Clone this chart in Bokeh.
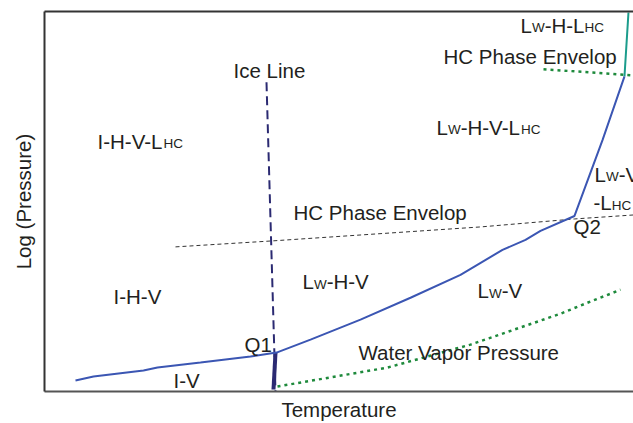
from bokeh.plotting import figure
from bokeh.models import Range1d, LinearAxis, FixedTicker, ColumnDataSource
from bokeh.embed import file_html
from bokeh.resources import INLINE
from bokeh.core.properties import value

# ---- schematic data (arbitrary units: temperature -> x, log pressure -> y) ----
# three-phase boundary (I-V / Lw-V ... through Q1 and Q2)
boundary_x = [31, 49, 99, 113, 156, 206, 232, 266, 316, 366, 416, 458, 481, 496, 530, 558, 580]
boundary_y = [11, 15, 21, 24, 29, 35, 39, 52, 72, 94, 117, 142, 152, 161, 176, 252, 316]
# continuation above the upper HC phase envelope
upper_x = [580, 584]
upper_y = [316, 380]
# ice line (dashed) and its solid part below Q1
ice_x = [222, 231]
ice_y = [310, 0]
ice_solid_x = [231, 229]
ice_solid_y = [39, 2]
# HC phase envelope (black dashed)
hc_x = [131, 228, 436, 530, 589, 604]
hc_y = [145, 151, 165, 173, 177, 178]
# water vapour pressure (green dotted)
wvp_x = [233, 343, 426, 516, 548, 576]
wvp_y = [5, 24, 47, 78, 91, 102]
# upper HC phase envelope (green dotted)
hc2_x = [499, 546, 586, 604]
hc2_y = [323, 320, 317, 316]

# region labels: segments (text, small) with anchor (x, baseline y)
label_segments = [
    [("L", 0), ("W", 1), ("-H-L", 0), ("HC", 1)],
    [("HC Phase Envelop", 0)],
    [("L", 0), ("W", 1), ("-H-V-L", 0), ("HC", 1)],
    [("I-H-V-L", 0), ("HC", 1)],
    [("HC Phase Envelop", 0)],
    [("L", 0), ("W", 1), ("-V", 0)],
    [("-L", 0), ("HC", 1)],
    [("Q2", 0)],
    [("I-H-V", 0)],
    [("L", 0), ("W", 1), ("-H-V", 0)],
    [("L", 0), ("W", 1), ("-V", 0)],
    [("Q1", 0)],
    [("Water Vapor Pressure", 0)],
    [("I-V", 0)],
    [("Ice Line", 0)],
]
label_x = [476, 399, 392, 53, 249, 550, 549, 529, 69, 258, 433, 200, 314, 129, 189]
label_y = [367, 336, 265, 251, 179, 218, 189, 165, 95, 110, 101, 47, 39, 11, 322]

x_title = "Temperature"
y_title = "Log (Pressure)"

# ---- styling ----
FONT = "Liberation Sans"
BIG = 20.5
SMALL = 13.5
TXT = "#231f20"
BLUE = "#3b56b3"
NAVY = "#2b2a72"
GREEN = "#1e8a3c"
TEAL = "#1b9c8c"

# Arial/Liberation advance widths (em) for offset of segments
W_EM = {"L": .556, "W": .944, "-": .333, "H": .722, "V": .667, "C": .722, "I": .278}

xs, ys, texts, offs, yoffs, sizes = [], [], [], [], [], []
for segs, lx, ly in zip(label_segments, label_x, label_y):
    off = 0.0
    for t, small in segs:
        sz = SMALL if small else BIG
        xs.append(lx); ys.append(ly); texts.append(t); offs.append(off)
        yoffs.append(2.5 if small else 0.0)
        sizes.append(f"{sz}px")
        off += sum(W_EM.get(c, 0.556) for c in t) * sz

p = figure(width=633, height=423, output_backend="svg", toolbar_location=None,
           x_range=Range1d(0, 589), y_range=Range1d(0, 381),
           x_axis_location=None, y_axis_location=None,
           min_border_left=44, min_border_right=0, min_border_top=11, min_border_bottom=31)
p.outline_line_color = None
p.background_fill_color = "white"
p.border_fill_color = "white"
p.grid.grid_line_color = None

axes = {}
for loc, col in [("left", "#333333"), ("below", "#555555"), ("above", "#333333")]:
    ax = LinearAxis(ticker=FixedTicker(ticks=[]), major_tick_out=0, major_tick_in=0,
                    minor_tick_out=0, minor_tick_in=0, major_label_text_font_size="0px",
                    major_label_standoff=0, axis_line_color=col, axis_line_width=2,
                    axis_label_text_font=FONT, axis_label_text_font_size=f"{BIG}px",
                    axis_label_text_font_style="normal", axis_label_text_color=TXT)
    p.add_layout(ax, loc)
    axes[loc] = ax
axes["left"].axis_label = y_title
axes["left"].axis_label_standoff = 10
axes["below"].axis_label = x_title
axes["below"].axis_label_standoff = 6

p.line(hc_x, hc_y, line_color="#333333", line_width=1, line_dash="4 3")
p.line(wvp_x, wvp_y, line_color=GREEN, line_width=2.5, line_dash="3 4")
p.line(hc2_x, hc2_y, line_color=GREEN, line_width=2.5, line_dash="3 4")
p.line(ice_x, ice_y, line_color=NAVY, line_width=2, line_dash="9 5")
p.line(ice_solid_x, ice_solid_y, line_color=NAVY, line_width=4)
p.line(boundary_x, boundary_y, line_color=BLUE, line_width=2)
p.line(upper_x, upper_y, line_color=TEAL, line_width=2)

src = ColumnDataSource(dict(x=xs, y=ys, text=texts, xo=offs, yo=yoffs, size=sizes))
p.text(x="x", y="y", text="text", x_offset="xo", y_offset="yo", text_font_size="size",
       source=src, text_font=value(FONT), text_color=TXT, text_baseline="alphabetic",
       text_align="left")

open("out.html", "w").write(file_html(p, INLINE))
